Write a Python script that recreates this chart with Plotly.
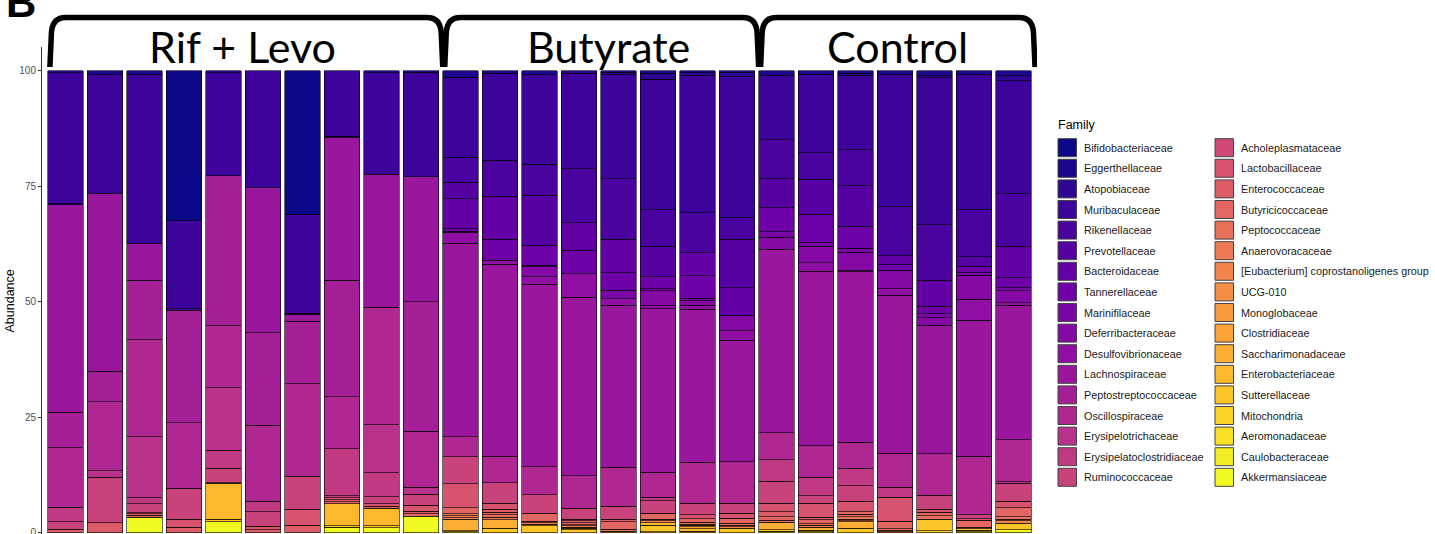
import plotly.graph_objects as go
from plotly.colors import sample_colorscale

# ---------------- data ----------------
families = [
    "Bifidobacteriaceae", "Eggerthellaceae", "Atopobiaceae", "Muribaculaceae",
    "Rikenellaceae", "Prevotellaceae", "Bacteroidaceae", "Tannerellaceae",
    "Marinifilaceae", "Deferribacteraceae", "Desulfovibrionaceae", "Lachnospiraceae",
    "Peptostreptococcaceae", "Oscillospiraceae", "Erysipelotrichaceae",
    "Erysipelatoclostridiaceae", "Ruminococcaceae", "Acholeplasmataceae",
    "Lactobacillaceae", "Enterococcaceae", "Butyricicoccaceae", "Peptococcaceae",
    "Anaerovoracaceae", "[Eubacterium] coprostanoligenes group", "UCG-010",
    "Monoglobaceae", "Clostridiaceae", "Saccharimonadaceae", "Enterobacteriaceae",
    "Sutterellaceae", "Mitochondria", "Aeromonadaceae", "Caulobacteraceae",
    "Akkermansiaceae",
]
EUB = "[Eubacterium] coprostanoligenes group"

groups = ["Rif + Levo", "Butyrate", "Control"]

RL1 = {"Atopobiaceae": 0.5, "Muribaculaceae": 28.3, "Rikenellaceae": 0.2, "Lachnospiraceae": 44.9,
       "Peptostreptococcaceae": 7.7, "Oscillospiraceae": 12.8, "Erysipelatoclostridiaceae": 3.2,
       "Ruminococcaceae": 1.6, "Enterococcaceae": 0.8}
RL2 = {"Eggerthellaceae": 0.9, "Muribaculaceae": 25.6, "Lachnospiraceae": 38.5,
       "Peptostreptococcaceae": 6.6, "Oscillospiraceae": 15.0, "Erysipelotrichaceae": 1.4,
       "Ruminococcaceae": 9.8, "Enterococcaceae": 2.2}
RL3 = {"Eggerthellaceae": 0.9, "Muribaculaceae": 36.5, "Lachnospiraceae": 8.0,
       "Peptostreptococcaceae": 12.8, "Oscillospiraceae": 21.0, "Erysipelotrichaceae": 13.2,
       "Erysipelatoclostridiaceae": 1.3, "Ruminococcaceae": 1.9, "Lactobacillaceae": 0.3,
       "Enterococcaceae": 0.3, "Butyricicoccaceae": 0.4, "Akkermansiaceae": 3.4}
RL4 = {"Bifidobacteriaceae": 32.5, "Muribaculaceae": 19.0, "Rikenellaceae": 0.3,
       "Peptostreptococcaceae": 24.4, "Oscillospiraceae": 14.1, "Ruminococcaceae": 6.8,
       "Lactobacillaceae": 1.7, "Enterococcaceae": 1.2}
RL5 = {"Atopobiaceae": 0.5, "Muribaculaceae": 22.3, "Peptostreptococcaceae": 32.4,
       "Oscillospiraceae": 13.4, "Erysipelotrichaceae": 13.5, "Erysipelatoclostridiaceae": 3.9,
       "Ruminococcaceae": 3.1, "Saccharimonadaceae": 0.2, "Enterobacteriaceae": 7.7,
       "Sutterellaceae": 0.6, "Akkermansiaceae": 2.4}
RL6 = {"Muribaculaceae": 25.3, "Lachnospiraceae": 31.4, "Peptostreptococcaceae": 20.0,
       "Oscillospiraceae": 16.5, "Erysipelatoclostridiaceae": 2.2, "Ruminococcaceae": 3.2,
       "Lactobacillaceae": 0.7, "Enterococcaceae": 0.7}
RL7 = {"Bifidobacteriaceae": 31.1, "Muribaculaceae": 21.4, "Rikenellaceae": 0.2,
       "Lachnospiraceae": 1.5, "Peptostreptococcaceae": 13.5, "Oscillospiraceae": 20.0,
       "Ruminococcaceae": 7.2, "Lactobacillaceae": 3.4, "Enterococcaceae": 1.7}
RL8 = {"Muribaculaceae": 14.2, "Rikenellaceae": 0.3, "Lachnospiraceae": 30.9,
       "Peptostreptococcaceae": 25.2, "Oscillospiraceae": 11.2, "Erysipelatoclostridiaceae": 10.2,
       "Ruminococcaceae": 0.4, "Lactobacillaceae": 0.4, "Enterococcaceae": 0.5,
       "Butyricicoccaceae": 0.4, "Enterobacteriaceae": 4.8, "Sutterellaceae": 0.3,
       "Akkermansiaceae": 1.2}
RL9 = {"Eggerthellaceae": 0.5, "Muribaculaceae": 21.9, "Lachnospiraceae": 28.8,
       "Oscillospiraceae": 25.4, "Erysipelotrichaceae": 10.4, "Erysipelatoclostridiaceae": 5.2,
       "Ruminococcaceae": 1.5, "Lactobacillaceae": 0.5, "Enterococcaceae": 0.5,
       "Enterobacteriaceae": 3.8, "Sutterellaceae": 0.4, "Akkermansiaceae": 1.1}
RL10 = {"Eggerthellaceae": 0.4, "Muribaculaceae": 22.6, "Lachnospiraceae": 27.0,
        "Peptostreptococcaceae": 28.0, "Oscillospiraceae": 12.1, "Erysipelotrichaceae": 1.5,
        "Ruminococcaceae": 2.4, "Lactobacillaceae": 1.3, "Enterococcaceae": 0.6,
        "Butyricicoccaceae": 0.5, "Akkermansiaceae": 3.6}

B1 = {"Eggerthellaceae": 1.4, "Muribaculaceae": 17.3, "Rikenellaceae": 5.4, "Prevotellaceae": 3.6,
      "Bacteroidaceae": 6.5, "Tannerellaceae": 0.5, "Marinifilaceae": 0.3,
      "Desulfovibrionaceae": 2.4, "Lachnospiraceae": 41.8, "Oscillospiraceae": 4.3,
      "Ruminococcaceae": 5.9, "Lactobacillaceae": 5.2, "Butyricicoccaceae": 1.3,
      "Peptococcaceae": 0.4, "Anaerovoracaceae": 0.4, EUB: 0.4, "Saccharimonadaceae": 2.4,
      "Sutterellaceae": 0.3, "Akkermansiaceae": 0.2}
B2 = {"Eggerthellaceae": 0.6, "Muribaculaceae": 18.8, "Rikenellaceae": 7.8, "Bacteroidaceae": 9.3,
      "Tannerellaceae": 4.5, "Desulfovibrionaceae": 0.9, "Lachnospiraceae": 41.5,
      "Oscillospiraceae": 5.7, "Ruminococcaceae": 4.5, "Lactobacillaceae": 1.3,
      "Enterococcaceae": 0.6, "Butyricicoccaceae": 0.6, "Peptococcaceae": 0.5,
      "Anaerovoracaceae": 0.6, "Saccharimonadaceae": 1.8, "Sutterellaceae": 1.0}
B3 = {"Eggerthellaceae": 0.9, "Muribaculaceae": 19.4, "Rikenellaceae": 6.7, "Prevotellaceae": 10.8,
      "Tannerellaceae": 4.3, "Marinifilaceae": 0.3, "Deferribacteraceae": 2.2,
      "Desulfovibrionaceae": 1.6, "Lachnospiraceae": 39.5, "Oscillospiraceae": 6.1,
      "Ruminococcaceae": 3.9, "Butyricicoccaceae": 1.8, "Peptococcaceae": 0.3,
      "Anaerovoracaceae": 0.3, "Clostridiaceae": 0.4, "Sutterellaceae": 1.5}
B4 = {"Atopobiaceae": 0.6, "Muribaculaceae": 20.6, "Rikenellaceae": 11.7, "Bacteroidaceae": 6.0,
      "Tannerellaceae": 5.0, "Desulfovibrionaceae": 5.1, "Lachnospiraceae": 38.6,
      "Oscillospiraceae": 7.1, "Ruminococcaceae": 2.3, "Lactobacillaceae": 0.4,
      "Enterococcaceae": 0.4, "Butyricicoccaceae": 0.4, "Peptococcaceae": 0.3,
      "Anaerovoracaceae": 0.3, EUB: 0.2, "Enterobacteriaceae": 0.3, "Sutterellaceae": 0.7}
B5 = {"Eggerthellaceae": 0.4, "Atopobiaceae": 0.5, "Muribaculaceae": 22.5, "Rikenellaceae": 13.1,
      "Bacteroidaceae": 7.2, "Tannerellaceae": 3.8, "Marinifilaceae": 1.8,
      "Desulfovibrionaceae": 1.5, "Lachnospiraceae": 35.0, "Oscillospiraceae": 8.4,
      "Ruminococcaceae": 2.8, "Enterococcaceae": 0.6, "Butyricicoccaceae": 1.6,
      "Peptococcaceae": 0.4, "Saccharimonadaceae": 0.4}
B6 = {"Eggerthellaceae": 0.6, "Atopobiaceae": 1.3, "Muribaculaceae": 28.2, "Rikenellaceae": 7.9,
      "Prevotellaceae": 6.6, "Tannerellaceae": 2.6, "Marinifilaceae": 0.4,
      "Deferribacteraceae": 3.3, "Desulfovibrionaceae": 0.6, "Lachnospiraceae": 35.4,
      "Oscillospiraceae": 5.4, "Erysipelatoclostridiaceae": 0.8, "Ruminococcaceae": 2.6,
      "Butyricicoccaceae": 1.4, "Peptococcaceae": 0.3, EUB: 0.4, "Enterobacteriaceae": 0.6,
      "Sutterellaceae": 1.3, "Mitochondria": 0.3}
B7 = {"Bifidobacteriaceae": 0.5, "Atopobiaceae": 0.5, "Muribaculaceae": 29.7, "Rikenellaceae": 8.7,
      "Bacteroidaceae": 5.0, "Tannerellaceae": 4.8, "Marinifilaceae": 0.6,
      "Deferribacteraceae": 1.0, "Desulfovibrionaceae": 0.8, "Lachnospiraceae": 33.1,
      "Oscillospiraceae": 8.9, "Ruminococcaceae": 2.5, "Lactobacillaceae": 0.8,
      "Butyricicoccaceae": 0.8, "Peptococcaceae": 0.4, EUB: 0.3, "Clostridiaceae": 0.3,
      "Saccharimonadaceae": 0.4, "Enterobacteriaceae": 0.5, "Mitochondria": 0.4}
B8 = {"Eggerthellaceae": 0.5, "Atopobiaceae": 0.8, "Muribaculaceae": 30.5, "Rikenellaceae": 4.7,
      "Prevotellaceae": 10.5, "Bacteroidaceae": 5.9, "Deferribacteraceae": 3.4,
      "Desulfovibrionaceae": 2.0, "Lachnospiraceae": 26.3, "Oscillospiraceae": 9.0,
      "Ruminococcaceae": 2.2, "Lactobacillaceae": 1.0, "Butyricicoccaceae": 1.1,
      "Peptococcaceae": 0.4, "Anaerovoracaceae": 0.4, EUB: 0.3, "Sutterellaceae": 1.0}

C1 = {"Eggerthellaceae": 1.0, "Muribaculaceae": 14.0, "Rikenellaceae": 8.4, "Prevotellaceae": 6.3,
      "Tannerellaceae": 5.2, "Marinifilaceae": 1.2, "Deferribacteraceae": 2.6,
      "Lachnospiraceae": 39.6, "Oscillospiraceae": 5.9, "Erysipelatoclostridiaceae": 4.6,
      "Ruminococcaceae": 4.8, "Lactobacillaceae": 1.8, "Enterococcaceae": 1.1,
      "Butyricicoccaceae": 0.8, "Peptococcaceae": 0.4, "Saccharimonadaceae": 1.6,
      "Sutterellaceae": 0.3, "Akkermansiaceae": 0.4}
C2 = {"Eggerthellaceae": 0.8, "Muribaculaceae": 17.0, "Rikenellaceae": 5.7, "Prevotellaceae": 7.6,
      "Tannerellaceae": 6.1, "Marinifilaceae": 0.8, "Deferribacteraceae": 3.6,
      "Desulfovibrionaceae": 1.8, "Lachnospiraceae": 37.8, "Oscillospiraceae": 6.8,
      "Erysipelatoclostridiaceae": 4.0, "Ruminococcaceae": 1.6, "Lactobacillaceae": 3.0,
      "Enterococcaceae": 0.6, "Butyricicoccaceae": 0.8, "Peptococcaceae": 0.4,
      "Anaerovoracaceae": 0.4, "Saccharimonadaceae": 0.6, "Enterobacteriaceae": 0.3,
      "Akkermansiaceae": 0.3}
C3 = {"Eggerthellaceae": 0.6, "Atopobiaceae": 0.4, "Muribaculaceae": 16.1, "Rikenellaceae": 7.8,
      "Prevotellaceae": 8.8, "Tannerellaceae": 4.7, "Marinifilaceae": 0.9,
      "Deferribacteraceae": 3.9, "Desulfovibrionaceae": 0.3, "Lachnospiraceae": 36.9,
      "Oscillospiraceae": 5.6, "Erysipelatoclostridiaceae": 3.8, "Ruminococcaceae": 3.4,
      "Lactobacillaceae": 2.2, "Butyricicoccaceae": 0.6, "Peptococcaceae": 0.5,
      "Anaerovoracaceae": 0.5, EUB: 0.4, "UCG-010": 0.2, "Saccharimonadaceae": 1.4,
      "Sutterellaceae": 1.0}
C4 = {"Eggerthellaceae": 0.9, "Muribaculaceae": 28.6, "Rikenellaceae": 10.5, "Bacteroidaceae": 2.0,
      "Tannerellaceae": 1.2, "Deferribacteraceae": 4.0, "Desulfovibrionaceae": 1.4,
      "Lachnospiraceae": 34.2, "Oscillospiraceae": 7.3, "Erysipelatoclostridiaceae": 2.2,
      "Lactobacillaceae": 5.2, "Butyricicoccaceae": 1.6, "Peptococcaceae": 0.3,
      "Anaerovoracaceae": 0.3, EUB: 0.3}
C5 = {"Eggerthellaceae": 1.1, "Atopobiaceae": 0.5, "Muribaculaceae": 31.7, "Rikenellaceae": 12.1,
      "Bacteroidaceae": 5.6, "Tannerellaceae": 1.6, "Marinifilaceae": 0.9,
      "Deferribacteraceae": 1.6, "Lachnospiraceae": 27.8, "Oscillospiraceae": 9.0,
      "Ruminococcaceae": 3.0, "Lactobacillaceae": 0.6, "Butyricicoccaceae": 0.8,
      "Peptococcaceae": 0.7, "Sutterellaceae": 2.5, "Mitochondria": 0.5}
C6 = {"Eggerthellaceae": 0.9, "Muribaculaceae": 29.2, "Rikenellaceae": 10.2, "Prevotellaceae": 2.0,
      "Tannerellaceae": 1.4, "Marinifilaceae": 0.6, "Deferribacteraceae": 5.2,
      "Desulfovibrionaceae": 4.5, "Lachnospiraceae": 29.4, "Oscillospiraceae": 12.7,
      "Ruminococcaceae": 0.8, "Lactobacillaceae": 0.4, "Butyricicoccaceae": 1.5,
      "Peptococcaceae": 0.3, "Enterobacteriaceae": 0.3, "Caulobacteraceae": 0.3,
      "Akkermansiaceae": 0.3}
C7 = {"Eggerthellaceae": 1.1, "Atopobiaceae": 1.1, "Muribaculaceae": 24.4, "Rikenellaceae": 11.4,
      "Bacteroidaceae": 6.8, "Tannerellaceae": 2.2, "Marinifilaceae": 0.6,
      "Deferribacteraceae": 2.6, "Desulfovibrionaceae": 0.6, "Lachnospiraceae": 29.1,
      "Oscillospiraceae": 9.0, "Erysipelotrichaceae": 0.4, "Ruminococcaceae": 3.9,
      "Lactobacillaceae": 1.4, "Butyricicoccaceae": 1.9, "Peptococcaceae": 0.5,
      "Anaerovoracaceae": 0.4, EUB: 0.5, "Sutterellaceae": 1.4, "Akkermansiaceae": 0.7}

rif_levo = [RL1, RL2, RL3, RL4, RL5, RL6, RL7, RL8, RL9, RL10]
butyrate = [B1, B2, B3, B4, B5, B6, B7, B8]
control = [C1, C2, C3, C4, C5, C6, C7]
group_samples = [rif_levo, butyrate, control]

y_ticks = [0, 25, 50, 75, 100]

# ---------------- build ----------------
samples = [s for g in group_samples for s in g]
xpos = list(range(len(samples)))

plasma = [[0.0, "#0d0887"], [0.1, "#41049d"], [0.2, "#6a00a8"], [0.3, "#8f0da4"],
          [0.4, "#b12a90"], [0.5, "#cc4778"], [0.6, "#e16462"], [0.7, "#f2844b"],
          [0.8, "#fca636"], [0.9, "#fcce25"], [1.0, "#f0f921"]]
n = len(families)
colors = sample_colorscale(plasma, [i / (n - 1) for i in range(n)])

fig = go.Figure()
for fam, col in reversed(list(zip(families, colors))):
    vals = [s.get(fam) if s.get(fam) else None for s in samples]
    fig.add_trace(go.Bar(
        x=xpos, y=vals, name=fam, width=0.9,
        marker=dict(color=col, line=dict(color="black", width=0.6)),
        showlegend=False, hoverinfo="skip"))

W, H = 1435, 534
L, T = 42, 47
R = W - 1037
B = 0
PW, PH = W - L - R, H - T - B


def pxx(x):
    return (x - L) / PW


def pxy(y):
    return (H - B - y) / PH


FONT = "Liberation Sans, Arial, sans-serif"
annotations = []
shapes = []

# group brackets and labels
label_x = [242, 608, 897]
start = 0
for gi, (gname, gs) in enumerate(zip(groups, group_samples)):
    s, e = start, start + len(gs) - 1
    start += len(gs)
    x0 = s - 0.4
    x1 = e + 0.55
    yt, yc, yb = pxy(17.5), pxy(32), pxy(67)
    path = (f"M {x0},{yb} L {x0 + 0.04},{yc} Q {x0 + 0.07},{yt} {x0 + 0.4},{yt} "
            f"L {x1 - 0.4},{yt} Q {x1 - 0.07},{yt} {x1 - 0.04},{yc} L {x1},{yb}")
    shapes.append(dict(type="path", path=path, xref="x", yref="paper",
                       line=dict(color="black", width=5.5)))
    annotations.append(dict(text=gname, x=pxx(label_x[gi]), y=pxy(46), xref="paper", yref="paper",
                            xanchor="center", yanchor="middle", showarrow=False,
                            font=dict(family="Lato", size=43, color="black")))

# panel letter (cut by the top edge, as in the original figure)
annotations.append(dict(text="<b>B</b>", x=pxx(4), y=pxy(2), xref="paper", yref="paper",
                        xanchor="left", yanchor="middle", showarrow=False,
                        font=dict(family=FONT, size=42, color="black")))

# y axis title
annotations.append(dict(text="Abundance", x=pxx(9), y=pxy(301.5), xref="paper", yref="paper",
                        xanchor="center", yanchor="middle", textangle=-90, showarrow=False,
                        font=dict(family=FONT, size=12.5, color="black")))

# legend (two columns)
annotations.append(dict(text="Family", x=pxx(1056), y=pxy(125), xref="paper", yref="paper",
                        xanchor="left", yanchor="middle", showarrow=False,
                        font=dict(family=FONT, size=12.5, color="black")))
per_col = 17
for i, (fam, col) in enumerate(zip(families, colors)):
    c, r = divmod(i, per_col)
    bx = 1058 if c == 0 else 1215
    cy = 147.7 + r * 20.6
    shapes.append(dict(type="rect", xref="paper", yref="paper",
                       x0=pxx(bx), x1=pxx(bx + 18.5), y0=pxy(cy + 9), y1=pxy(cy - 9),
                       fillcolor=col, line=dict(color="#444444", width=1)))
    annotations.append(dict(text=fam, x=pxx(bx + 24), y=pxy(cy), xref="paper", yref="paper",
                            xanchor="left", yanchor="middle", showarrow=False,
                            font=dict(family=FONT, size=10.8, color="#1a1a1a")))

fig.update_layout(
    width=W, height=H, barmode="stack", bargap=0.1,
    margin=dict(l=L, r=R, t=T, b=B, pad=0, autoexpand=False),
    plot_bgcolor="white", paper_bgcolor="white",
    xaxis=dict(range=[-0.6, len(samples) - 0.4], showticklabels=False, ticks="",
               showline=False, showgrid=False, zeroline=False),
    yaxis=dict(range=[-0.24, 105.1], tickvals=y_ticks, ticks="outside", ticklen=3,
               tickcolor="#333333", tickfont=dict(family=FONT, size=10, color="#4D4D4D"),
               ticklabeloverflow="allow",
               showline=True, linecolor="#333333", linewidth=1, showgrid=False,
               zeroline=False),
    shapes=shapes, annotations=annotations,
)

# remove the default 8px page margin so the figure sits at the window's top-left corner
fig.write_html("out.html", config={"displayModeBar": False},
               post_script="document.body.style.margin='0';document.body.style.padding='0';"
                           "document.body.style.overflow='hidden';")
